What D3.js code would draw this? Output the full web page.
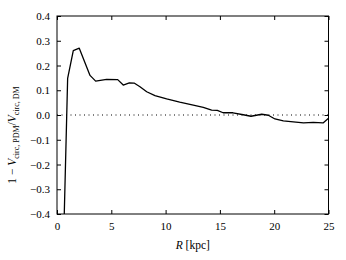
<!DOCTYPE html>
<html>
<head>
<meta charset="utf-8">
<script src="https://cdn.jsdelivr.net/npm/d3@7"></script>
<style>
  body { margin: 0; background: #fff; }
  svg { display: block; }
  text { font-family: "Liberation Serif", "DejaVu Serif", serif; fill: #000; }
</style>
</head>
<body>
<svg id="chart" width="346" height="260"></svg>
<script>
// radius in kpc
var radius = [0.67, 0.98, 1.5, 2.05, 3.04, 3.56, 4.57, 5.59, 6.1, 6.66, 7.1, 7.64, 8.26, 9.02,
    10.1, 11.3, 12.55, 13.47, 14.24, 14.76, 15.3, 16.2, 17.15, 17.86, 18.85, 19.46, 20.07,
    20.84, 21.76, 22.7, 23.6, 24.5, 25.0];
// 1 - Vcirc,PDM / Vcirc,DM
var ratio = [-0.4, 0.148, 0.26, 0.27, 0.16, 0.137, 0.144, 0.143, 0.121, 0.13, 0.129, 0.114, 0.094, 0.078,
    0.065, 0.052, 0.040, 0.031, 0.020, 0.019, 0.009, 0.009, 0.001, -0.005, 0.003, -0.001, -0.016,
    -0.024, -0.028, -0.032, -0.030, -0.032, -0.013];
var xTicks = [0, 5, 10, 15, 20, 25];
var yTicks = [-0.4, -0.3, -0.2, -0.1, 0.0, 0.1, 0.2, 0.3, 0.4];

var svg = d3.select("#chart");
var plotL = 57, plotR = 328.5, plotT = 16, plotB = 214;

var x = d3.scaleLinear().domain([0, 25]).range([plotL, plotR]);
var y = d3.scaleLinear().domain([-0.4, 0.4]).range([plotB, plotT]);

var fmt = function (d) { return d.toFixed(1).replace("-", "\u2212"); };

// zero reference line
svg.append("line")
    .attr("x1", x(0)).attr("x2", x(25))
    .attr("y1", y(0)).attr("y2", y(0))
    .attr("stroke", "#000").attr("stroke-width", 1)
    .attr("stroke-dasharray", "1,3.5");

var pts = radius.map(function (r, i) { return [r, ratio[i]]; });
var line = d3.line().x(function (d) { return x(d[0]); }).y(function (d) { return y(d[1]); });
svg.append("path")
    .datum(pts)
    .attr("d", line)
    .attr("fill", "none")
    .attr("stroke", "#000")
    .attr("stroke-width", 1.3)
    .attr("stroke-linejoin", "round");

// axes, ticks inward
function styleAxis(g) {
    g.select(".domain").remove();
    g.selectAll(".tick line").attr("stroke", "#000");
    g.selectAll(".tick text").attr("font-size", 11).attr("font-family", "Liberation Serif");
}
svg.append("g").attr("transform", "translate(0," + plotB + ")")
    .call(d3.axisBottom(x).tickValues(xTicks).tickSizeInner(-4).tickSizeOuter(0).tickPadding(8).tickFormat(d3.format("d")))
    .call(styleAxis);
svg.append("g").attr("transform", "translate(0," + plotT + ")")
    .call(d3.axisTop(x).tickValues(xTicks).tickSizeInner(-4).tickSizeOuter(0).tickFormat(""))
    .call(styleAxis);
svg.append("g").attr("transform", "translate(" + plotL + ",0)")
    .call(d3.axisLeft(y).tickValues(yTicks).tickSizeInner(-4).tickSizeOuter(0).tickPadding(7).tickFormat(fmt))
    .call(styleAxis);
svg.append("g").attr("transform", "translate(" + plotR + ",0)")
    .call(d3.axisRight(y).tickValues(yTicks).tickSizeInner(-4).tickSizeOuter(0).tickFormat(""))
    .call(styleAxis);

svg.append("rect")
    .attr("x", plotL).attr("y", plotT)
    .attr("width", plotR - plotL).attr("height", plotB - plotT)
    .attr("fill", "none").attr("stroke", "#000").attr("stroke-width", 1);

// x label
var xl = svg.append("text")
    .attr("x", (plotL + plotR) / 2).attr("y", 249)
    .attr("text-anchor", "middle").attr("font-size", 11.5);
xl.append("tspan").attr("font-style", "italic").text("R");
xl.append("tspan").text(" [kpc]");

// y label
var yl = svg.append("text")
    .attr("transform", "translate(16," + ((plotT + plotB) / 2 + 20) + ") rotate(-90)")
    .attr("text-anchor", "middle").attr("font-size", 11.5);
yl.append("tspan").text("1 \u2212 ");
yl.append("tspan").attr("font-style", "italic").text("V");
yl.append("tspan").attr("font-size", 8).attr("dy", 2.5).text("circ, PDM");
yl.append("tspan").attr("dy", -2.5).text("/");
yl.append("tspan").attr("font-style", "italic").text("V");
yl.append("tspan").attr("font-size", 8).attr("dy", 2.5).text("circ, DM");
</script>
</body>
</html>
